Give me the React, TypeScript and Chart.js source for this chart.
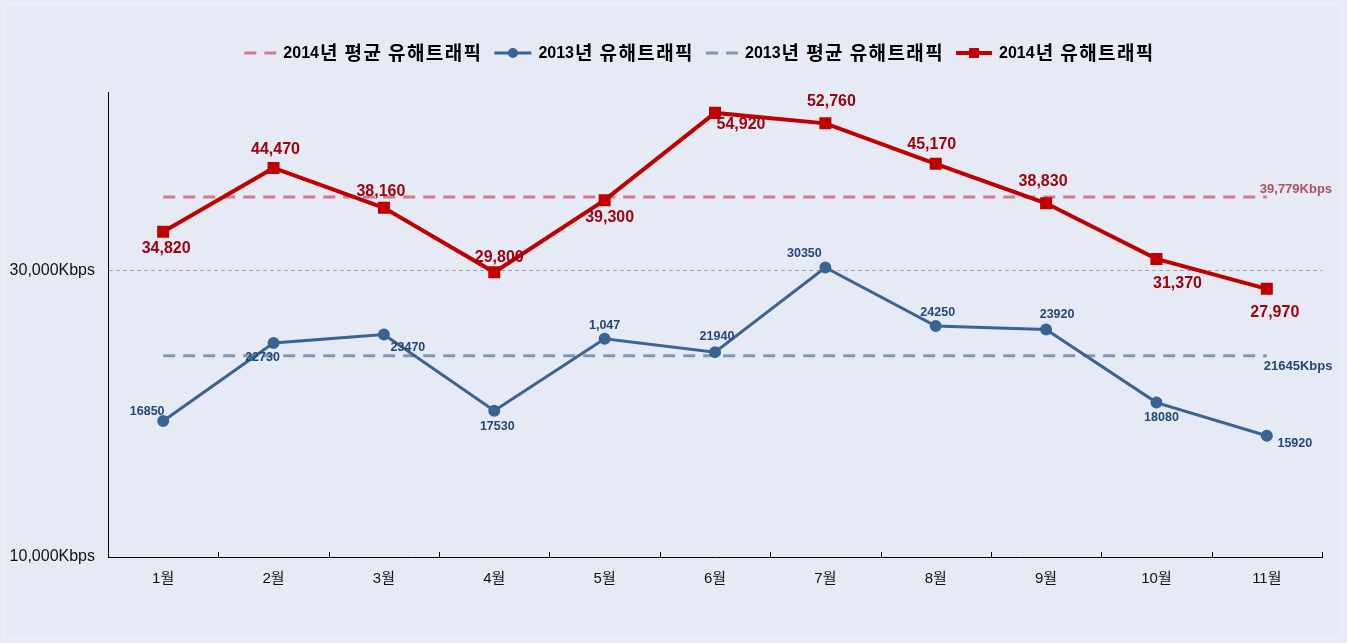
import React, { useEffect, useRef } from 'react';
import { Chart, registerables } from 'chart.js';

Chart.register(...registerables);

const months = ['1월', '2월', '3월', '4월', '5월', '6월', '7월', '8월', '9월', '10월', '11월'];
const traffic2014 = [34820, 44470, 38160, 29800, 39300, 54920, 52760, 45170, 38830, 31370, 27970];
const traffic2013 = [16850, 22730, 23470, 17530, 23100, 21940, 30350, 24250, 23920, 18080, 15920];
const pointLabels2014 = ['34,820', '44,470', '38,160', '29,800', '39,300', '54,920', '52,760', '45,170', '38,830', '31,370', '27,970'];
const pointLabels2013 = ['16850', '22730', '23470', '17530', '1,047', '21940', '30350', '24250', '23920', '18080', '15920'];
const average2014 = 39779;
const average2013 = 21645;
const averageText2014 = '39,779Kbps';
const averageText2013 = '21645Kbps';
const yTickValues = [10000, 30000];
const legendNames = ['2014년 평균 유해트래픽', '2013년 유해트래픽', '2013년 평균 유해트래픽', '2014년 유해트래픽'];

// label placement (style only)
const offsets2014 = [[3, 17], [2, -18], [-3, -16], [5, -15], [5, 17], [26, 12], [6, -22], [-4, -19], [-3, -22], [21, 25], [8, 24]];
const offsets2013 = [[-16, -9], [-11, 15], [24, 13], [3, 16], [0, -13], [2, -16], [-21, -14], [2, -13], [11, -15], [5, 15], [28, 8]];

const FONT = "'Liberation Sans', Arial, 'Noto Sans CJK KR', sans-serif";
const KFONT = "'Noto Sans CJK KR', 'Liberation Sans', sans-serif";
const BG = '#E5EAF5';
const RED = '#C00000';
const RED_TEXT = '#9E000C';
const RED_AVG = '#D27A86';
const BLUE = '#3A6393';
const BLUE_TEXT = '#24477A';
const BLUE_AVG = '#8496B6';

const W = 1347;
const H = 643;

function splitName(name: string) {
  const m = name.match(/^\d+/);
  const num = m ? m[0] : '';
  return [num, name.slice(num.length)];
}

const overlayPlugin = {
  id: 'overlay',
  beforeDraw(chart: any) {
    const ctx = chart.ctx;
    ctx.save();
    ctx.fillStyle = BG;
    ctx.fillRect(0, 0, chart.width, chart.height);
    ctx.strokeStyle = '#EEF1F9';
    ctx.lineWidth = 1;
    ctx.strokeRect(4.5, 4.5, chart.width - 9, chart.height - 9);
    ctx.restore();
  },
  afterDatasetsDraw(chart: any) {
    const ctx = chart.ctx;
    const m14 = chart.getDatasetMeta(3);
    const m13 = chart.getDatasetMeta(1);
    ctx.save();
    ctx.textAlign = 'center';
    ctx.textBaseline = 'middle';
    ctx.font = `bold 16px ${FONT}`;
    ctx.fillStyle = RED_TEXT;
    m14.data.forEach((pt: any, i: number) => {
      ctx.fillText(pointLabels2014[i], pt.x + offsets2014[i][0], pt.y + offsets2014[i][1]);
    });
    ctx.font = `bold 12.5px ${FONT}`;
    ctx.fillStyle = BLUE_TEXT;
    m13.data.forEach((pt: any, i: number) => {
      ctx.fillText(pointLabels2013[i], pt.x + offsets2013[i][0], pt.y + offsets2013[i][1]);
    });
    const a14 = chart.getDatasetMeta(0).data;
    const a13 = chart.getDatasetMeta(2).data;
    const l14 = a14[a14.length - 1];
    const l13 = a13[a13.length - 1];
    ctx.textAlign = 'left';
    ctx.font = `bold 13px ${FONT}`;
    ctx.fillStyle = '#B0505E';
    ctx.fillText(averageText2014, l14.x - 7, l14.y - 8);
    ctx.fillStyle = BLUE_TEXT;
    ctx.fillText(averageText2013, l13.x - 3, l13.y + 11);
    ctx.restore();
  },
  afterDraw(chart: any) {
    const ctx = chart.ctx;
    const xs = chart.scales.x;
    const area = chart.chartArea;
    ctx.save();
    ctx.strokeStyle = '#000';
    ctx.lineWidth = 1;
    const n = months.length;
    const step = xs.getPixelForTick(1) - xs.getPixelForTick(0);
    for (let i = 1; i <= n; i++) {
      const x = Math.round(xs.getPixelForTick(i - 1) + step / 2) + 0.5;
      ctx.beginPath();
      ctx.moveTo(x, area.bottom);
      ctx.lineTo(x, area.bottom - 5);
      ctx.stroke();
    }
    ctx.restore();

    // legend
    ctx.save();
    ctx.textBaseline = 'middle';
    ctx.textAlign = 'left';
    const numFont = `bold 16px ${FONT}`;
    const korFont = `bold 19px ${KFONT}`;
    const korSpacing = '1.4px';
    const measure = (name: string) => {
      const [num, rest] = splitName(name);
      ctx.font = numFont;
      (ctx as any).letterSpacing = '0px';
      const w1 = ctx.measureText(num).width;
      ctx.font = korFont;
      (ctx as any).letterSpacing = korSpacing;
      const w2 = ctx.measureText(rest).width;
      (ctx as any).letterSpacing = '0px';
      return [w1, w2];
    };
    const iconW = [32, 37, 32, 36];
    const gapIconText = 7;
    const gapItems = 13;
    const parts = legendNames.map((t) => measure(t));
    const widths = parts.map((p, i) => iconW[i] + gapIconText + p[0] + p[1]);
    const total = widths.reduce((a, b) => a + b, 0) + gapItems * (legendNames.length - 1);
    let x = 699 - total / 2;
    const y = 53;
    legendNames.forEach((name, i) => {
      const w = iconW[i];
      ctx.save();
      if (i === 0 || i === 2) {
        ctx.strokeStyle = i === 0 ? RED_AVG : BLUE_AVG;
        ctx.lineWidth = 3;
        ctx.setLineDash([12, 8]);
        ctx.beginPath();
        ctx.moveTo(x, y);
        ctx.lineTo(x + w, y);
        ctx.stroke();
      } else if (i === 1) {
        ctx.strokeStyle = BLUE;
        ctx.fillStyle = BLUE;
        ctx.lineWidth = 3;
        ctx.beginPath();
        ctx.moveTo(x, y);
        ctx.lineTo(x + w, y);
        ctx.stroke();
        ctx.beginPath();
        ctx.arc(x + w / 2, y, 5, 0, Math.PI * 2);
        ctx.fill();
      } else {
        ctx.strokeStyle = RED;
        ctx.fillStyle = RED;
        ctx.lineWidth = 4;
        ctx.beginPath();
        ctx.moveTo(x, y);
        ctx.lineTo(x + w, y);
        ctx.stroke();
        ctx.fillRect(x + w / 2 - 5, y - 5, 10, 10);
      }
      ctx.restore();
      const [num, rest] = splitName(name);
      const tx = x + w + gapIconText;
      ctx.fillStyle = '#000';
      ctx.font = numFont;
      (ctx as any).letterSpacing = '0px';
      ctx.fillText(num, tx, y + 1);
      ctx.font = korFont;
      (ctx as any).letterSpacing = korSpacing;
      ctx.fillText(rest, tx + parts[i][0] + 1, y);
      (ctx as any).letterSpacing = '0px';
      x += widths[i] + gapItems;
    });
    ctx.restore();
  },
};

export default function App() {
  const ref = useRef<HTMLCanvasElement | null>(null);

  useEffect(() => {
    document.body.style.margin = '0';
    document.body.style.background = BG;
    const canvas = ref.current;
    if (!canvas) return;
    const chart = new Chart(canvas, {
      type: 'line',
      data: {
        labels: months,
        datasets: [
          {
            label: legendNames[0],
            data: months.map(() => average2014),
            borderColor: RED_AVG,
            borderWidth: 3,
            borderDash: [12, 8],
            pointRadius: 0,
            order: 4,
          },
          {
            label: legendNames[1],
            data: traffic2013,
            borderColor: BLUE,
            backgroundColor: BLUE,
            borderWidth: 3,
            pointRadius: 5,
            pointBorderWidth: 2,
            pointStyle: 'circle',
            order: 2,
          },
          {
            label: legendNames[2],
            data: months.map(() => average2013),
            borderColor: BLUE_AVG,
            borderWidth: 3,
            borderDash: [12, 8],
            pointRadius: 0,
            order: 3,
          },
          {
            label: legendNames[3],
            data: traffic2014,
            borderColor: RED,
            backgroundColor: RED,
            borderWidth: 4,
            pointRadius: 8.5,
            pointBorderWidth: 0,
            pointStyle: 'rect',
            order: 1,
          },
        ],
      },
      options: {
        responsive: false,
        animation: false,
        devicePixelRatio: 1,
        layout: { padding: { top: 92, right: 25, left: 0, bottom: 0 } },
        plugins: {
          legend: { display: false },
          tooltip: { enabled: false },
          title: { display: false },
        },
        scales: {
          x: {
            type: 'category',
            offset: true,
            grid: { display: false, drawTicks: false },
            border: { display: true, color: '#000', width: 1 },
            ticks: {
              color: '#111',
              padding: 13,
              font: { family: FONT, size: 15 },
              maxRotation: 0,
            },
            afterFit(scale: any) {
              scale.height = H - 557;
            },
          },
          y: {
            type: 'logarithmic',
            min: 10000,
            max: 59500,
            afterBuildTicks(scale: any) {
              scale.ticks = yTickValues.map((v) => ({ value: v }));
            },
            afterFit(scale: any) {
              scale.width = 108;
            },
            grid: {
              drawTicks: false,
              lineWidth: 1,
              color: (c: any) => (c.tick && c.tick.value === 30000 ? '#A0A4AC' : 'rgba(0,0,0,0)'),
            },
            border: { display: true, color: '#000', width: 1, dash: [4, 3] },
            ticks: {
              color: '#111',
              padding: 13,
              font: { family: FONT, size: 16 },
              callback: (v: any) => `${Number(v).toLocaleString('en-US')}Kbps`,
            },
          },
        },
      },
      plugins: [overlayPlugin],
    } as any);
    return () => chart.destroy();
  }, []);

  return (
    <div style={{ width: W, height: H, background: BG }}>
      <canvas ref={ref} width={W} height={H} style={{ display: 'block', width: W, height: H }} />
    </div>
  );
}
